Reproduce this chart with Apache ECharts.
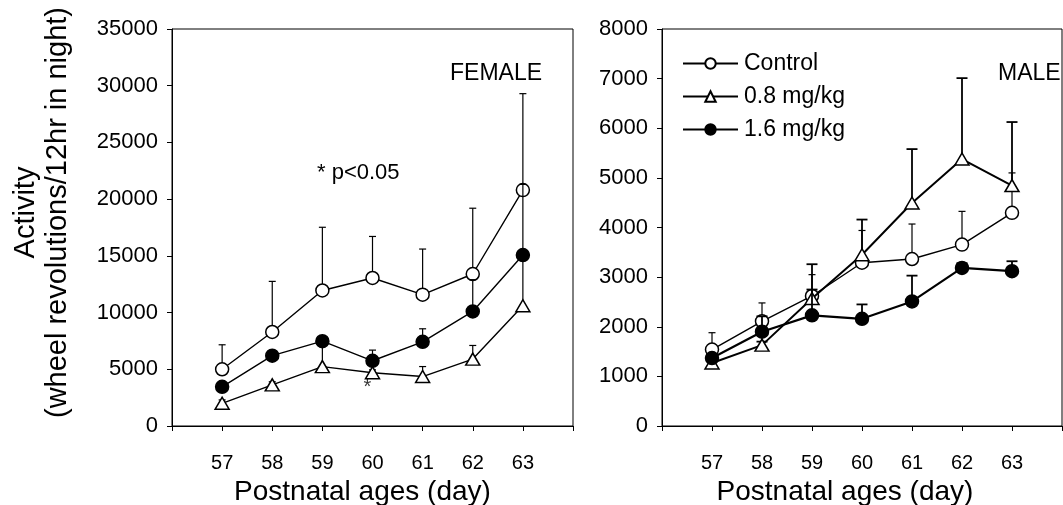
<!DOCTYPE html>
<html>
<head>
<meta charset="utf-8">
<title>Wheel activity</title>
<script src="https://cdn.jsdelivr.net/npm/echarts@6/dist/echarts.min.js"></script>
<style>
  html, body { margin: 0; padding: 0; background: #fff; }
  #chart { width: 1063px; height: 505px; }
</style>
</head>
<body>
<div id="chart"></div>
<script>
const days = [57, 58, 59, 60, 61, 62, 63];
const seriesNames = ['Control', '0.8 mg/kg', '1.6 mg/kg'];

// FEMALE: means and upper ends of the error bars
const femaleControl = [5000, 8290, 11950, 13050, 11580, 13400, 20800];
const femaleControlHi = [7160, 12750, 17520, 16710, 15600, 19200, 29300];
const femaleLow = [2000, 3630, 5230, 4700, 4360, 5900, 10600];
const femaleLowHi = [2300, 3900, 7000, 4950, 5240, 7100, 14600];
const femaleHigh = [3450, 6200, 7480, 5750, 7420, 10100, 15070];
const femaleHighHi = [3700, 6500, 7800, 6690, 8570, 12900, 21300];

// MALE
const maleControl = [1540, 2110, 2620, 3290, 3365, 3655, 4295];
const maleControlHi = [1880, 2480, 3050, 3940, 4070, 4325, 5100];
const maleLow = [1270, 1630, 2570, 3450, 4495, 5380, 4845];
const maleLowHi = [1330, 1700, 3260, 4160, 5580, 7010, 6125];
const maleHigh = [1370, 1900, 2230, 2160, 2510, 3185, 3120];
const maleHighHi = [1450, 2210, 2750, 2450, 3030, 3280, 3320];

// significance mark (female, 0.8 mg/kg)
const sigPoints = [[60, 3400]];

const font = '"Liberation Sans", Arial, sans-serif';

function errorBars(xi, means, his, cap, width, z) {
  return {
    type: 'custom',
    xAxisIndex: xi,
    yAxisIndex: xi,
    z: z,
    silent: true,
    data: days.map((d, i) => [d, means[i], his[i]]),
    renderItem(params, api) {
      const base = api.coord([api.value(0), api.value(1)]);
      const top = api.coord([api.value(0), api.value(2)]);
      const st = { stroke: '#000', lineWidth: width };
      return {
        type: 'group',
        children: [
          { type: 'line', shape: { x1: base[0], y1: base[1], x2: top[0], y2: top[1] }, style: st },
          { type: 'line', shape: { x1: top[0] - cap / 2, y1: top[1], x2: top[0] + cap / 2, y2: top[1] }, style: st }
        ]
      };
    }
  };
}

function lineSeries(name, xi, values, symbol, fill, width, z) {
  return {
    type: 'line',
    name: name,
    xAxisIndex: xi,
    yAxisIndex: xi,
    z: z,
    data: days.map((d, i) => [d, values[i]]),
    symbol: symbol,
    symbolSize: symbol === 'triangle' ? [14, 12] : 13,
    showAllSymbol: true,
    lineStyle: { color: '#000', width: width },
    itemStyle: { color: fill, borderColor: '#000', borderWidth: 1.5 },
    emphasis: { disabled: true }
  };
}

function xAxis(gi, shift) {
  return {
    type: 'value',
    gridIndex: gi,
    min: 56,
    max: 64,
    interval: 1,
    name: 'Postnatal ages (day)',
    nameLocation: 'middle',
    nameGap: 50,
    nameTextStyle: { fontSize: 28, color: '#000', fontFamily: font, padding: [0, shift, 0, 0] },
    axisLine: { show: true, onZero: false, lineStyle: { color: '#000', width: 1 } },
    axisTick: { show: true, length: 5, lineStyle: { color: '#000' } },
    axisLabel: {
      margin: 27,
      fontSize: 20,
      color: '#000',
      fontFamily: font,
      formatter: v => (v < 57 || v > 63 ? '' : String(v))
    },
    splitLine: { show: false }
  };
}

function yAxis(gi, max, step) {
  return {
    type: 'value',
    gridIndex: gi,
    min: 0,
    max: max,
    interval: step,
    axisLine: { show: true, lineStyle: { color: '#000', width: 1 } },
    axisTick: { show: true, length: 5, lineStyle: { color: '#000' } },
    axisLabel: { margin: 14, fontSize: 22, color: '#000', fontFamily: font, formatter: v => String(v) },
    splitLine: { show: false }
  };
}

const chart = echarts.init(document.getElementById('chart'));

const yLeft = yAxis(0, 35000, 5000);
yLeft.name = 'Activity\n(wheel revolutions/12hr in night)';
yLeft.nameLocation = 'middle';
yLeft.nameGap = 98;
yLeft.nameTextStyle = { fontSize: 29, lineHeight: 32, color: '#000', fontFamily: font, padding: [0, 0, 0, 30] };

const option = {
  animation: false,
  backgroundColor: '#fff',
  grid: [
    { left: 172, top: 29, width: 401, height: 397, show: true, borderColor: '#000', borderWidth: 1, outerBoundsMode: 'none' },
    { left: 662, top: 29, width: 400, height: 397, show: true, borderColor: '#000', borderWidth: 1, outerBoundsMode: 'none' }
  ],
  xAxis: [xAxis(0, 20), xAxis(1, 34)],
  yAxis: [yLeft, yAxis(1, 8000, 1000)],
  legend: {
    data: seriesNames,
    orient: 'vertical',
    left: 677,
    top: 47,
    itemWidth: 55,
    itemHeight: 13,
    itemGap: 10,
    selectedMode: false,
    textStyle: { fontSize: 23, color: '#000', fontFamily: font, padding: [0, 0, 0, 1] }
  },
  graphic: [
    { type: 'text', left: 317, top: 162, style: { text: '* p<0.05', fontSize: 22, fontFamily: font, fill: '#000' } },
    { type: 'text', left: 450, top: 62, style: { text: 'FEMALE', fontSize: 23, fontFamily: font, fill: '#000' } },
    { type: 'text', left: 998, top: 62, style: { text: 'MALE', fontSize: 23, fontFamily: font, fill: '#000' } }
  ],
  series: [
    errorBars(0, femaleControl, femaleControlHi, 7, 1.2, 1),
    lineSeries('Control', 0, femaleControl, 'circle', '#fff', 1.4, 2),
    errorBars(0, femaleLow, femaleLowHi, 7, 1.2, 3),
    lineSeries('0.8 mg/kg', 0, femaleLow, 'triangle', '#fff', 1.4, 4),
    errorBars(0, femaleHigh, femaleHighHi, 7, 1.2, 5),
    lineSeries('1.6 mg/kg', 0, femaleHigh, 'circle', '#000', 1.4, 6),

    errorBars(1, maleControl, maleControlHi, 7, 1.2, 1),
    lineSeries('Control', 1, maleControl, 'circle', '#fff', 1.4, 2),
    errorBars(1, maleLow, maleLowHi, 11, 1.8, 3),
    lineSeries('0.8 mg/kg', 1, maleLow, 'triangle', '#fff', 2, 4),
    errorBars(1, maleHigh, maleHighHi, 11, 1.8, 5),
    lineSeries('1.6 mg/kg', 1, maleHigh, 'circle', '#000', 2.2, 6),

    {
      type: 'scatter',
      xAxisIndex: 0,
      yAxisIndex: 0,
      z: 7,
      silent: true,
      symbolSize: 1,
      itemStyle: { color: 'rgba(0,0,0,0)' },
      data: sigPoints,
      label: { show: true, position: 'inside', offset: [-5, 0], formatter: '*', fontSize: 20, color: '#000', fontFamily: font }
    }
  ]
};

chart.setOption(option);
</script>
</body>
</html>
